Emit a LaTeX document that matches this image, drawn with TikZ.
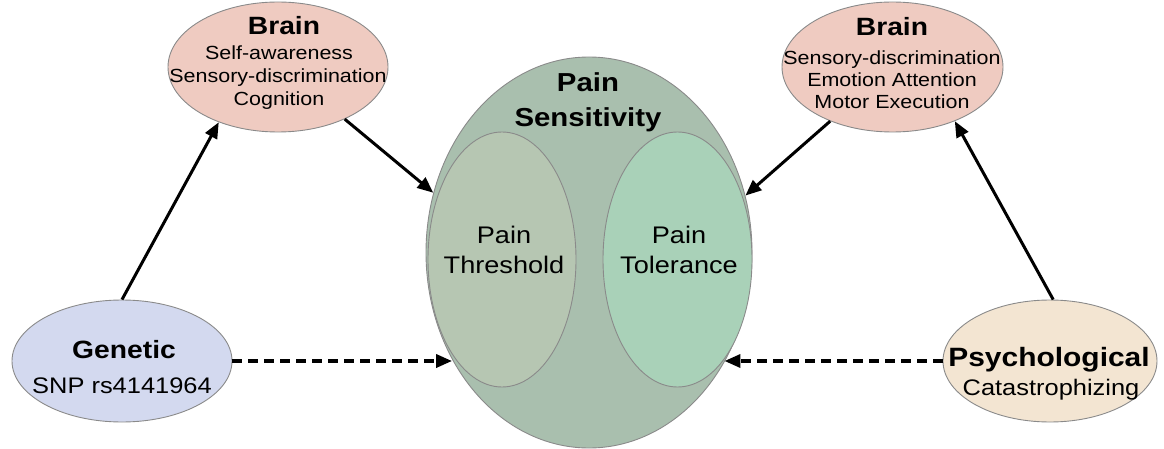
\documentclass[tikz,border=0pt]{standalone}
\usepackage{fontspec}
\setmainfont{Liberation Sans}[FakeStretch=1.13]
\usetikzlibrary{shapes.geometric,arrows.meta}
\definecolor{brainfill}{HTML}{EFCBC1}
\definecolor{genfill}{HTML}{D3D9EF}
\definecolor{psyfill}{HTML}{F3E5D2}
\definecolor{painfill}{HTML}{A9BFAE}
\definecolor{thrfill}{HTML}{B6C6B2}
\definecolor{tolfill}{HTML}{A9D1B8}
\definecolor{edge}{HTML}{8A8A8A}
\tikzset{
  ell/.style={ellipse, draw=edge, line width=0.9pt, inner sep=0pt},
  lbl/.style={anchor=base, inner sep=0pt, text=black},
  ttl/.style={lbl, font=\fontsize{25}{28}\selectfont\bfseries},
  bodytxt/.style={lbl, font=\fontsize{19}{22}\selectfont},
  solidarrow/.style={line width=3pt, -{Triangle[length=16pt,width=13pt]}},
  dasharrow/.style={line width=3.5pt, dash pattern=on 10pt off 6pt, -{Triangle[length=16pt,width=13pt]}}
}
\begin{document}
\begin{tikzpicture}[x=1pt,y=1pt]
\useasboundingbox (0,0) rectangle (1164,-449);
% ellipses
\node[ell, fill=painfill, minimum width=326pt, minimum height=391pt] (pain) at (589,-252.5) {};
\node[ell, fill=thrfill, minimum width=148pt, minimum height=255pt] (thr) at (502,-259.5) {};
\node[ell, fill=tolfill, minimum width=149pt, minimum height=255pt] (tol) at (677.5,-259.5) {};
\node[ell, fill=brainfill, minimum width=220pt, minimum height=130pt] (bl) at (278,-67) {};
\node[ell, fill=brainfill, minimum width=221pt, minimum height=130pt] (br) at (892.5,-67) {};
\node[ell, fill=genfill, minimum width=220pt, minimum height=122pt] (gen) at (122,-361) {};
\node[ell, fill=psyfill, minimum width=214pt, minimum height=122pt] (psy) at (1050,-361) {};
% texts
\node[ttl, font=\fontsize{26}{28}\selectfont\bfseries] (ps1) at (588,-92) {Pain};
\node[ttl, font=\fontsize{26}{28}\selectfont\bfseries] (ps2) at (588,-127) {Sensitivity};
\node[lbl, font=\fontsize{24}{28}\selectfont] (th1) at (504,-243) {Pain};
\node[lbl, font=\fontsize{24}{28}\selectfont] (th2) at (504,-273) {Threshold};
\node[lbl, font=\fontsize{24}{28}\selectfont] (to1) at (679,-243) {Pain};
\node[lbl, font=\fontsize{24}{28}\selectfont] (to2) at (679,-273) {Tolerance};
\node[ttl] (blt) at (284,-35) {Brain};
\node[bodytxt] (bl1) at (279,-60) {Self-awareness};
\node[bodytxt] (bl2) at (278,-83) {Sensory-discrimination};
\node[bodytxt] (bl3) at (279,-105.5) {Cognition};
\node[ttl] (brt) at (892,-36) {Brain};
\node[bodytxt] (br1) at (892,-65) {Sensory-discrimination};
\node[bodytxt] (br2) at (892,-87) {Emotion Attention};
\node[bodytxt] (br3) at (892,-109) {Motor Execution};
\node[ttl] (gt) at (124,-358) {Genetic};
\node[lbl, font=\fontsize{22.5}{26}\selectfont] (g1) at (122,-393) {SNP rs4141964};
\node[ttl, font=\fontsize{26.5}{28}\selectfont\bfseries] (pt) at (1049,-366) {Psychological};
\node[lbl, font=\fontsize{22.5}{26}\selectfont] (p1) at (1051,-395) {Catastrophizing};
% arrows
\draw[solidarrow] (gen.90) -- (bl.223.5);
\draw[solidarrow] (bl.322) -- (pain.159.4);
\draw[solidarrow] (psy.87) -- (br.319.7);
\draw[solidarrow] (br.221.6) -- (pain.20.9);
\draw[dasharrow] (gen.east) -- (pain.218.3 |- gen.east);
\draw[dasharrow] (psy.west) -- (pain.321.7 |- psy.west);
\end{tikzpicture}
\end{document}
